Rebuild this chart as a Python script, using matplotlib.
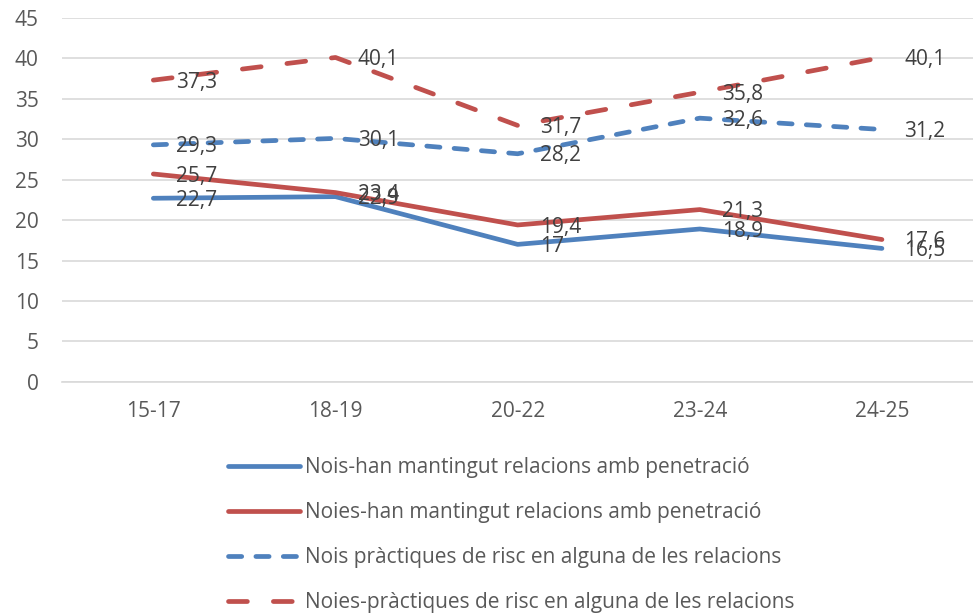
import matplotlib.pyplot as plt

plt.rcParams['font.family'] = ['Open Sans', 'DejaVu Sans']

cats = ["15-17", "18-19", "20-22", "23-24", "24-25"]
nois_pen = [22.7, 22.9, 17, 18.9, 16.5]
noies_pen = [25.7, 23.4, 19.4, 21.3, 17.6]
nois_risc = [29.3, 30.1, 28.2, 32.6, 31.2]
noies_risc = [37.3, 40.1, 31.7, 35.8, 40.1]

labels = ["Nois-han mantingut relacions amb penetració",
          "Noies-han mantingut relacions amb penetració",
          "Nois pràctiques de risc en alguna de les relacions",
          "Noies-pràctiques de risc en alguna de les relacions"]

blue = "#4f81bd"
red = "#c0504d"

fig = plt.figure(figsize=(9.73, 6.15), dpi=100)
ax = fig.add_axes([0.064, 0.379, 0.936, 0.592])

x = list(range(len(cats)))
series = [
    (nois_pen, blue, None),
    (noies_pen, red, None),
    (nois_risc, blue, (0, (2.8, 3.0))),
    (noies_risc, red, (0, (4.0, 5.5))),
]
handles = []
for (vals, col, dash), lab in zip(series, labels):
    kw = dict(color=col, lw=3.4, solid_capstyle="round", dash_capstyle="round")
    if dash is not None:
        kw["linestyle"] = dash
    h, = ax.plot(x, vals, label=lab, **kw)
    handles.append(h)
    # data labels to the right of each point, comma decimals
    for xi, v in zip(x, vals):
        txt = f"{v:g}".replace(".", ",")
        ax.annotate(txt, (xi, v), xytext=(16, -1.5), textcoords="offset points",
                    ha="left", va="center", fontsize=15, color="#404040")

ax.set_xlim(-0.5, len(cats) - 0.5)
ax.set_ylim(0, 45)
ax.set_yticks(range(0, 46, 5))
ax.set_xticks(x)
ax.set_xticklabels(cats)
ax.tick_params(axis="both", length=0, labelsize=15, labelcolor="#595959")
ax.tick_params(axis="x", pad=14)
ax.tick_params(axis="y", pad=17)
ax.grid(axis="y", color="#d9d9d9", lw=1.2)
ax.set_axisbelow(True)
for s in ["top", "right", "left"]:
    ax.spines[s].set_visible(False)
ax.spines["bottom"].set_color("#d9d9d9")
ax.spines["bottom"].set_linewidth(1.2)

fig.legend(handles=handles, loc="upper left", bbox_to_anchor=(0.226, 0.270),
           frameon=False, ncol=1, fontsize=15, labelcolor="#595959",
           handlelength=3.45, handletextpad=0.25, labelspacing=1.15,
           borderaxespad=0)

fig.savefig("out.png", dpi=100)
